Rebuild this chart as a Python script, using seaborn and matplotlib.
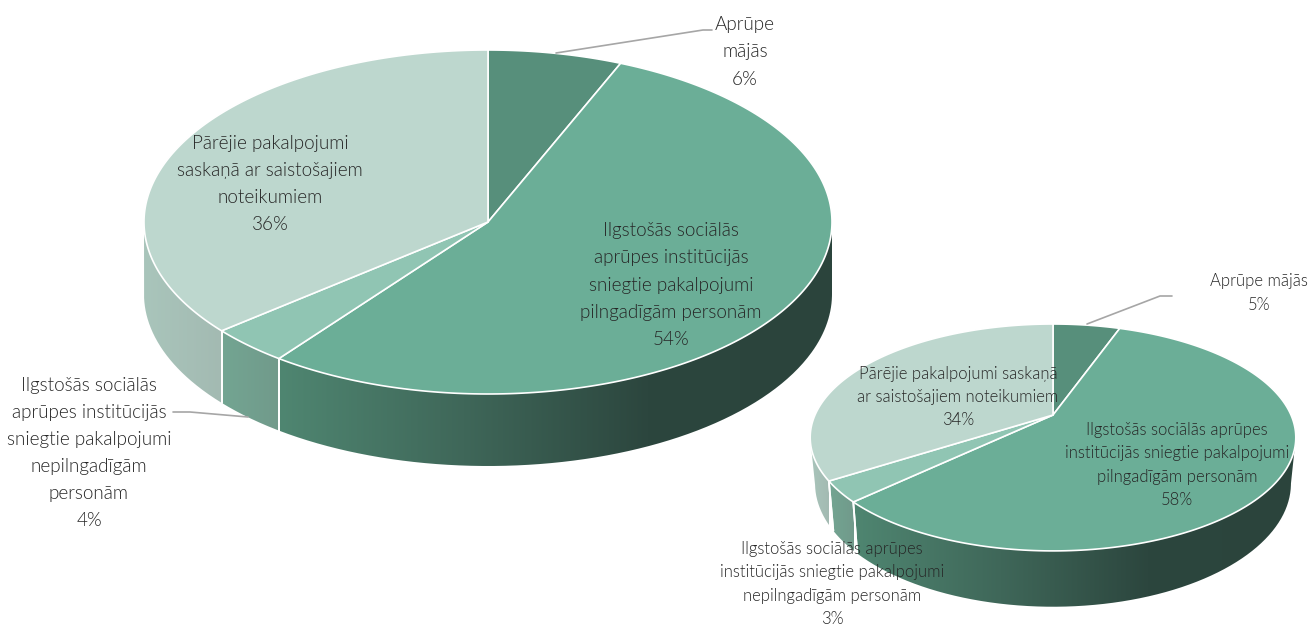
import matplotlib
matplotlib.use("Agg")
import matplotlib.pyplot as plt
from matplotlib.patches import PathPatch, Polygon
from matplotlib.path import Path
import numpy as np
import seaborn as sns

# slice values in the order they run clockwise from 12 o'clock
big_values = [6.3, 54.1, 3.7, 35.9]
small_values = [5.4, 57.5, 3.0, 34.1]

big_labels = [
    "Aprūpe\nmājās",
    "Ilgstošās sociālās\naprūpes institūcijās\nsniegtie pakalpojumi\npilngadīgām personām",
    "Ilgstošās sociālās\naprūpes institūcijās\nsniegtie pakalpojumi\nnepilngadīgām\npersonām",
    "Pārējie pakalpojumi\nsaskaņā ar saistošajiem\nnoteikumiem",
]
small_labels = [
    "Aprūpe mājās",
    "Ilgstošās sociālās aprūpes\ninstitūcijās sniegtie pakalpojumi\npilngadīgām personām",
    "Ilgstošās sociālās aprūpes\ninstitūcijās sniegtie pakalpojumi\nnepilngadīgām personām",
    "Pārējie pakalpojumi saskaņā\nar saistošajiem noteikumiem",
]

top_colors = ["#578f7b", "#6bae97", "#90c5b3", "#bdd7ce"]
wall_colors = [
    ["#578f7b", "#4a7a69"],
    ["#4f8671", "#3f6759", "#2c463e", "#2b443c"],
    ["#73a592", "#719a8b"],
    ["#a9c5bb", "#a3bab2"],
]

sns.set_theme(style="white")
plt.rcParams["font.family"] = ["Lato", "DejaVu Sans"]
TEXT_COLOR = "#262626"
LINE_COLOR = "#a6a6a6"


def rim_points(phi, cx, cy, rx, ry, k):
    # circle seen in perspective, k moves the hub towards the far edge
    w = 1 + k * np.cos(phi)
    return cx + rx * np.sin(phi) / w, cy - ry * np.cos(phi) / w


def draw_pie(ax, values, cx, cy, rx, ry, k, depth, taper=1.0, stretch=1.0):
    edges = np.cumsum([0.0] + list(values)) / sum(values) * 2 * np.pi
    probe = np.linspace(0, 2 * np.pi, 1441)
    px, _ = rim_points(probe, cx, cy, rx, ry, k)
    right = probe[np.argmax(px)]
    left = probe[np.argmin(px)]

    # walls first, the top face hides whatever is left over
    for i in range(len(values)):
        a, b = max(edges[i], right), min(edges[i + 1], left)
        if b <= a:
            continue
        phi = np.linspace(a, b, 200)
        x, y = rim_points(phi, cx, cy, rx, ry, k)
        xb = cx + (x - cx) * taper
        yb = cy + (y - cy) * stretch + depth
        verts = np.r_[np.c_[x, y], np.c_[xb, yb][::-1]]
        patch = PathPatch(Path(np.r_[verts, verts[:1]]), fc="none", ec="none")
        ax.add_patch(patch)
        cmap = sns.blend_palette(wall_colors[i], as_cmap=True)
        img = ax.imshow(
            np.linspace(0, 1, 256)[None, :],
            cmap=cmap,
            extent=(x.min(), x.max(), yb.max(), y.min()),
            aspect="auto",
            zorder=1,
        )
        img.set_clip_path(patch)
        # white seams between the wall pieces
        for j, at_edge in ((0, a == right), (-1, b == left)):
            if not at_edge:
                ax.plot([x[j], xb[j]], [y[j], yb[j]], color="white", lw=1.3, zorder=1.5)

    for i in range(len(values)):
        phi = np.linspace(edges[i], edges[i + 1], 200)
        x, y = rim_points(phi, cx, cy, rx, ry, k)
        ax.add_patch(
            Polygon(
                np.r_[[[cx, cy]], np.c_[x, y]],
                closed=True,
                fc=top_colors[i],
                ec="white",
                lw=1.2,
                joinstyle="round",
                zorder=2,
            )
        )


def put_label(ax, x, y, label, value, size, spacing):
    ax.text(
        x, y, f"{label}\n{value:.0f}%",
        ha="center", va="center", color=TEXT_COLOR, fontsize=size,
        fontweight=300, linespacing=spacing, zorder=3,
    )


fig = plt.figure(figsize=(13.1, 6.26), dpi=100)
ax = fig.add_axes([0, 0, 1, 1])

draw_pie(ax, big_values, 488, 222, 344, 172, 0.0, 72)
draw_pie(ax, small_values, 1053, 415, 238, 109, 0.198, 44, taper=0.98, stretch=1.087)

ax.plot([556, 703, 712], [53, 30, 30], color=LINE_COLOR, lw=1.2, zorder=2.5)
ax.plot([173, 190, 248], [412, 412, 417], color=LINE_COLOR, lw=1.2, zorder=2.5)
ax.plot([1087, 1160, 1172], [324, 296, 296], color=LINE_COLOR, lw=1.2, zorder=2.5)

put_label(ax, 745, 52, big_labels[0], big_values[0], 13.6, 1.72)
put_label(ax, 671, 285, big_labels[1], big_values[1], 13.6, 1.72)
put_label(ax, 89, 453, big_labels[2], big_values[2], 13.6, 1.72)
put_label(ax, 270, 184, big_labels[3], big_values[3], 13.6, 1.72)

put_label(ax, 1259, 293, small_labels[0], small_values[0], 12.0, 1.56)
put_label(ax, 1177, 465, small_labels[1], small_values[1], 12.0, 1.56)
put_label(ax, 832, 584, small_labels[2], small_values[2], 12.0, 1.56)
put_label(ax, 958, 397, small_labels[3], small_values[3], 12.0, 1.56)

ax.set_xlim(0, 1310)
ax.set_ylim(626, 0)
ax.axis("off")
fig.savefig("out.png", dpi=100, facecolor="white")
